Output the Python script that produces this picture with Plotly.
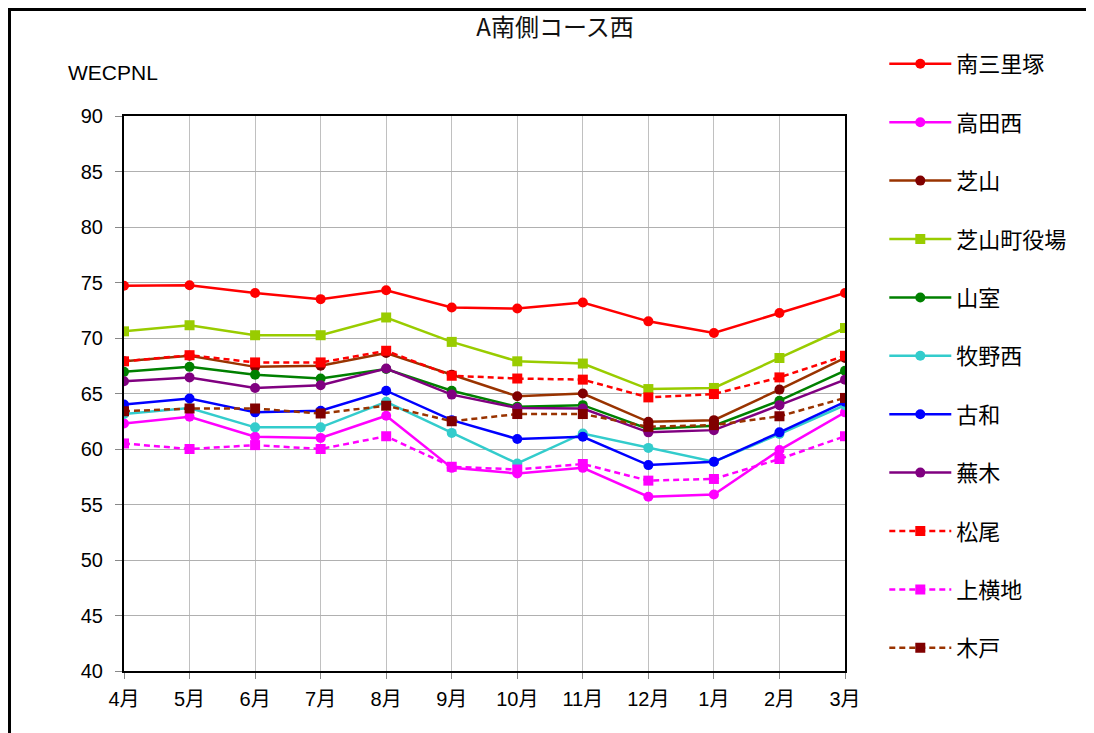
import plotly.graph_objects as go

months = ["4月", "5月", "6月", "7月", "8月", "9月", "10月", "11月", "12月", "1月", "2月", "3月"]

minamisanrizuka = [74.7, 74.75, 74.05, 73.5, 74.3, 72.75, 72.65, 73.2, 71.5, 70.45, 72.25, 74.05]
takadanishi = [62.3, 62.9, 61.1, 61.0, 63.0, 58.3, 57.8, 58.3, 55.7, 55.9, 59.9, 63.3]
shibayama = [67.9, 68.4, 67.4, 67.5, 68.65, 66.7, 64.75, 65.0, 62.45, 62.6, 65.35, 68.2]
shibayama_yakuba = [70.6, 71.15, 70.25, 70.25, 71.85, 69.65, 67.9, 67.7, 65.4, 65.5, 68.2, 70.9]
yamamuro = [66.95, 67.4, 66.7, 66.35, 67.2, 65.25, 63.8, 63.95, 61.8, 62.1, 64.35, 67.05]
makinonishi = [63.15, 63.7, 61.95, 61.95, 64.25, 61.45, 58.7, 61.4, 60.1, 58.85, 61.35, 63.95]
kowa = [64.0, 64.55, 63.3, 63.45, 65.25, 62.6, 60.9, 61.1, 58.55, 58.85, 61.5, 64.25]
kaburagi = [66.1, 66.45, 65.5, 65.75, 67.25, 64.9, 63.7, 63.65, 61.5, 61.7, 63.95, 66.25]
matsuo = [67.9, 68.45, 67.8, 67.8, 68.85, 66.6, 66.35, 66.25, 64.65, 64.95, 66.45, 68.4]
kamiyokochi = [60.5, 60.0, 60.35, 60.0, 61.15, 58.4, 58.15, 58.65, 57.15, 57.3, 59.1, 61.15]
kido = [63.4, 63.65, 63.65, 63.2, 63.9, 62.5, 63.15, 63.15, 62.0, 62.15, 62.95, 64.6]

y_ticks = [40, 45, 50, 55, 60, 65, 70, 75, 80, 85, 90]

series = [
    ("南三里塚", minamisanrizuka, "#FF0000", "#FF0000", "circle", "solid"),
    ("高田西", takadanishi, "#FF00FF", "#FF00FF", "circle", "solid"),
    ("芝山", shibayama, "#993300", "#800000", "circle", "solid"),
    ("芝山町役場", shibayama_yakuba, "#99CC00", "#99CC00", "square", "solid"),
    ("山室", yamamuro, "#008000", "#008000", "circle", "solid"),
    ("牧野西", makinonishi, "#33CCCC", "#33CCCC", "circle", "solid"),
    ("古和", kowa, "#0000FF", "#0000FF", "circle", "solid"),
    ("蕪木", kaburagi, "#800080", "#800080", "circle", "solid"),
    ("松尾", matsuo, "#FF0000", "#FF0000", "square", "dash"),
    ("上横地", kamiyokochi, "#FF00FF", "#FF00FF", "square", "dash"),
    ("木戸", kido, "#993300", "#800000", "square", "dash"),
]

fig = go.Figure()
for i, (name, vals, lc, mc, sym, dash) in enumerate(series):
    fig.add_trace(go.Scatter(
        x=months, y=vals, name=name, mode="lines+markers",
        legendgroup=f"g{i}",
        line=dict(color=lc, width=2.5, dash="6px,4px" if dash == "dash" else "solid"),
        marker=dict(color=mc, symbol=sym, size=10, line=dict(width=0)),
    ))

fig.update_layout(
    width=1086, height=725,
    margin=dict(l=116, r=249, t=108, b=62, autoexpand=False),
    paper_bgcolor="white", plot_bgcolor="white",
    font=dict(family="Liberation Sans, Noto Sans CJK JP, sans-serif", size=19, color="black"),
    title=dict(text="A南側コース西", x=0.5037, xanchor="center", y=0.973, yanchor="middle",
               font=dict(family="Noto Sans CJK JP", size=24, color="#111111")),
    showlegend=True,
    legend=dict(x=1.0545, xanchor="left", y=1.1315, yanchor="top", maxheight=725,
                font=dict(family="Noto Sans CJK JP", size=22, color="black"),
                tracegroupgap=26.8, itemwidth=62, bgcolor="rgba(0,0,0,0)"),
    xaxis=dict(type="category", range=[0, 11], showgrid=True, gridcolor="#c0c0c0", gridwidth=1,
               showline=True, linecolor="black", linewidth=2, mirror=True,
               ticks="outside", ticklen=6, tickcolor="#888888", ticklabelstandoff=3,
               tickfont=dict(family="Liberation Sans, Noto Sans CJK JP", size=20)),
    yaxis=dict(range=[40, 90], tickvals=y_ticks, showgrid=True, gridcolor="#b0b0b0", gridwidth=1,
               showline=True, linecolor="black", linewidth=2, mirror=True,
               ticks="outside", ticklen=7, tickcolor="#888888", ticklabelstandoff=8,
               tickfont=dict(family="Liberation Sans", size=20), zeroline=False),
    annotations=[dict(text="WECPNL", xref="paper", yref="paper", x=-0.015, y=1.078,
                      xanchor="center", yanchor="middle", showarrow=False,
                      font=dict(family="Liberation Sans", size=21, color="black"))],
    shapes=[
        dict(type="line", xref="paper", yref="paper", x0=-0.1588, x1=-0.1588, y0=1.197, y1=-0.12,
             line=dict(color="black", width=3)),
        dict(type="line", xref="paper", yref="paper", x0=-0.161, x1=1.36, y0=1.1919, y1=1.1919,
             line=dict(color="black", width=3)),
    ],
)

fig.write_html("out.html")
